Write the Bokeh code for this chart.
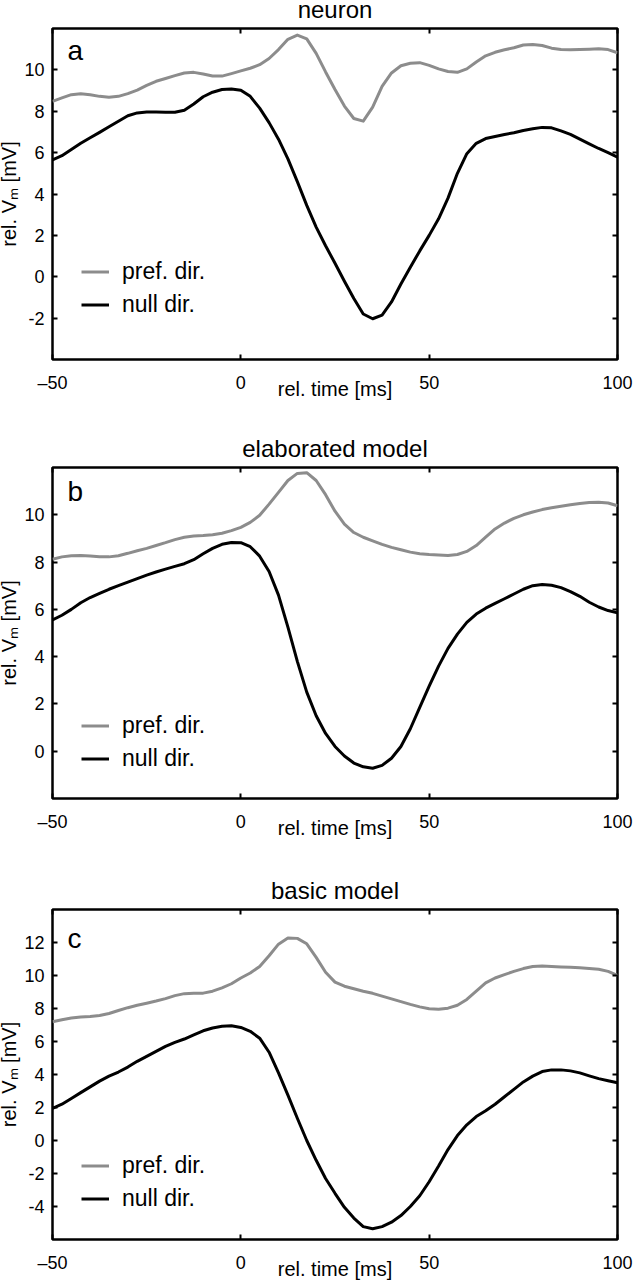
from bokeh.plotting import figure
from bokeh.layouts import column
from bokeh.models import (LinearAxis, Range1d, FixedTicker, Legend, LegendItem, Label)
from bokeh.embed import file_html
from bokeh.resources import INLINE

# ---------------- data ----------------
time_ms = [-50, -47.5, -45, -42.5, -40, -37.5, -35, -32.5, -30, -27.5,
           -25, -22.5, -20, -17.5, -15, -12.5, -10, -7.5, -5, -2.5,
           0, 2.5, 5, 7.5, 10, 12.5, 15, 17.5, 20, 22.5,
           25, 27.5, 30, 32.5, 35, 37.5, 40, 42.5, 45, 47.5,
           50, 52.5, 55, 57.5, 60, 62.5, 65, 67.5, 70, 72.5,
           75, 77.5, 80, 82.5, 85, 87.5, 90, 92.5, 95, 97.5, 100]

neuron_pref = [8.48, 8.65, 8.80, 8.85, 8.80, 8.72, 8.68, 8.72, 8.85, 9.02,
               9.25, 9.45, 9.58, 9.72, 9.85, 9.88, 9.80, 9.70, 9.70, 9.82,
               9.95, 10.08, 10.25, 10.55, 10.98, 11.48, 11.68, 11.50, 10.80, 9.90,
               9.05, 8.25, 7.65, 7.52, 8.20, 9.20, 9.85, 10.20, 10.32, 10.35,
               10.22, 10.05, 9.92, 9.88, 10.05, 10.38, 10.68, 10.85, 10.97, 11.07,
               11.20, 11.23, 11.18, 11.05, 10.98, 10.97, 10.98, 11.00, 11.02, 10.98, 10.83]
neuron_null = [5.65, 5.85, 6.15, 6.45, 6.72, 6.98, 7.25, 7.52, 7.78, 7.92,
               7.96, 7.96, 7.95, 7.95, 8.05, 8.35, 8.70, 8.92, 9.05, 9.08,
               9.02, 8.72, 8.15, 7.45, 6.65, 5.70, 4.60, 3.45, 2.40, 1.50,
               0.65, -0.22, -1.05, -1.80, -2.03, -1.85, -1.22, -0.35, 0.46, 1.25,
               2.00, 2.80, 3.80, 5.00, 5.95, 6.45, 6.68, 6.78, 6.88, 6.96,
               7.07, 7.15, 7.22, 7.20, 7.05, 6.88, 6.65, 6.42, 6.20, 6.00, 5.78]

elaborated_pref = [8.12, 8.22, 8.27, 8.28, 8.26, 8.23, 8.22, 8.27, 8.37, 8.48,
                   8.58, 8.70, 8.82, 8.95, 9.05, 9.10, 9.12, 9.16, 9.22, 9.33,
                   9.47, 9.68, 9.98, 10.45, 10.95, 11.45, 11.75, 11.78, 11.45, 10.85,
                   10.15, 9.60, 9.25, 9.05, 8.90, 8.75, 8.62, 8.52, 8.42, 8.35,
                   8.32, 8.30, 8.28, 8.32, 8.45, 8.70, 9.05, 9.40, 9.65, 9.85,
                   10.00, 10.12, 10.22, 10.30, 10.36, 10.42, 10.48, 10.52, 10.53, 10.50, 10.38]
elaborated_null = [5.55, 5.75, 6.00, 6.28, 6.50, 6.68, 6.85, 7.00, 7.15, 7.30,
                   7.45, 7.58, 7.70, 7.82, 7.93, 8.10, 8.35, 8.58, 8.75, 8.83,
                   8.82, 8.65, 8.25, 7.60, 6.60, 5.25, 3.80, 2.50, 1.50, 0.75,
                   0.20, -0.20, -0.50, -0.66, -0.72, -0.60, -0.30, 0.20, 0.95, 1.85,
                   2.75, 3.60, 4.35, 4.95, 5.45, 5.80, 6.05, 6.25, 6.45, 6.65,
                   6.85, 7.00, 7.05, 7.02, 6.92, 6.75, 6.55, 6.30, 6.10, 5.95, 5.85]

basic_pref = [7.20, 7.32, 7.42, 7.48, 7.52, 7.58, 7.70, 7.88, 8.05, 8.20,
              8.32, 8.45, 8.60, 8.78, 8.90, 8.93, 8.93, 9.05, 9.25, 9.50,
              9.85, 10.15, 10.55, 11.20, 11.90, 12.28, 12.25, 11.92, 11.10, 10.20,
              9.60, 9.35, 9.20, 9.05, 8.92, 8.75, 8.58, 8.42, 8.25, 8.10,
              7.98, 7.95, 8.02, 8.20, 8.55, 9.05, 9.55, 9.85, 10.05, 10.25,
              10.42, 10.55, 10.58, 10.55, 10.52, 10.50, 10.47, 10.43, 10.38, 10.25, 10.00]
basic_null = [1.95, 2.20, 2.55, 2.90, 3.25, 3.60, 3.90, 4.15, 4.45, 4.80,
              5.10, 5.40, 5.70, 5.95, 6.15, 6.40, 6.65, 6.82, 6.92, 6.95,
              6.85, 6.62, 6.20, 5.35, 4.10, 2.75, 1.35, 0.00, -1.20, -2.30,
              -3.20, -4.05, -4.70, -5.22, -5.35, -5.22, -4.95, -4.55, -4.00, -3.35,
              -2.50, -1.55, -0.55, 0.30, 0.95, 1.45, 1.80, 2.20, 2.65, 3.10,
              3.55, 3.90, 4.18, 4.28, 4.28, 4.22, 4.10, 3.92, 3.75, 3.62, 3.50]

x_tick_values = [-50, 0, 50, 100]
x_tick_labels = ["\u201350", "0", "50", "100"]

panel_titles = ["neuron", "elaborated model", "basic model"]
panel_letters = ["a", "b", "c"]
legend_labels = ["pref. dir.", "null dir."]
y_limits = [(-4, 12), (-2, 12), (-6, 14)]
y_ticks = [[-2, 0, 2, 4, 6, 8, 10], [0, 2, 4, 6, 8, 10], [-4, -2, 0, 2, 4, 6, 8, 10, 12]]

# ---------------- styling ----------------
FONT = "Liberation Sans"
GRAY = "#8c8c8c"
BLACK = "#000000"
TOP = 44


def tick_axis(ticks, labels=None, show=True):
    ax = LinearAxis(ticker=FixedTicker(ticks=ticks))
    ax.axis_line_color = None
    ax.major_tick_in = 5
    ax.major_tick_out = 0
    ax.minor_tick_in = 0
    ax.minor_tick_out = 0
    ax.major_tick_line_width = 2
    ax.major_tick_line_color = BLACK
    ax.major_label_text_font = FONT
    if show:
        ax.major_label_text_color = BLACK
        ax.major_label_text_font_size = "18px"
        if labels is not None:
            ax.major_label_overrides = {t: l for t, l in zip(ticks, labels)}
    else:
        # tick marks only: labels are not drawn
        ax.major_label_text_color = None
        ax.major_label_text_font_size = "1px"
        ax.major_label_standoff = 0
    return ax


def make_panel(i, pref, null, frame_h, border_bottom, letter_y, legend_y):
    ymin, ymax = y_limits[i]
    p = figure(frame_width=565, frame_height=frame_h,
               x_range=Range1d(-50, 100), y_range=Range1d(ymin, ymax),
               output_backend="svg", toolbar_location=None,
               x_axis_location=None, y_axis_location=None,
               min_border_left=52, min_border_right=19,
               min_border_top=TOP, min_border_bottom=border_bottom,
               title=panel_titles[i])
    p.xgrid.visible = False
    p.ygrid.visible = False
    p.outline_line_color = BLACK
    p.outline_line_width = 2.5
    p.background_fill_color = "white"
    p.border_fill_color = "white"

    p.title.text_font = FONT
    p.title.text_font_size = "24px"
    p.title.text_font_style = "normal"
    p.title.text_color = BLACK
    p.title.align = "center"
    p.title.standoff = 12

    # bottom axis
    xb = tick_axis(x_tick_values, x_tick_labels)
    xb.major_label_standoff = 13
    xb.axis_label = "rel. time [ms]"
    xb.axis_label_text_font = FONT
    xb.axis_label_text_font_size = "20px"
    xb.axis_label_text_font_style = "normal"
    xb.axis_label_text_color = BLACK
    xb.axis_label_standoff = -18
    p.add_layout(xb, "below")

    # left axis
    yl = tick_axis(y_ticks[i], [str(v) for v in y_ticks[i]])
    yl.major_label_standoff = 8
    yl.axis_label = "rel. V\u2098 [mV]"
    yl.axis_label_text_font = FONT
    yl.axis_label_text_font_size = "20px"
    yl.axis_label_text_font_style = "normal"
    yl.axis_label_text_color = BLACK
    yl.axis_label_standoff = 1
    p.add_layout(yl, "left")

    # mirrored ticks (top / right)
    p.add_layout(tick_axis(x_tick_values, show=False), "above")
    p.add_layout(tick_axis(y_ticks[i], show=False), "right")

    r_pref = p.line(time_ms, pref, line_color=GRAY, line_width=3, line_join="round")
    r_null = p.line(time_ms, null, line_color=BLACK, line_width=3, line_join="round")

    legend = Legend(items=[LegendItem(label=legend_labels[0], renderers=[r_pref]),
                           LegendItem(label=legend_labels[1], renderers=[r_null])],
                    location=(29, legend_y))
    legend.glyph_width = 28
    legend.glyph_height = 33
    legend.label_height = 33
    legend.spacing = 0
    legend.padding = 0
    legend.margin = 0
    legend.label_standoff = 13
    legend.label_text_font = FONT
    legend.label_text_font_size = "23px"
    legend.label_text_color = BLACK
    legend.border_line_color = None
    legend.background_fill_alpha = 0
    p.add_layout(legend)

    p.add_layout(Label(x=-46, y=letter_y, text=panel_letters[i], text_font=FONT,
                       text_font_size="28px", text_baseline="middle", text_color=BLACK))
    return p


pa = make_panel(0, neuron_pref, neuron_null, 331, 439 - 331 - TOP, 10.96, 38)
pb = make_panel(1, elaborated_pref, elaborated_null, 331, 442 - 331 - TOP, 11.0, 23)
pc = make_panel(2, basic_pref, basic_null, 330, 41, 12.27, 24)

layout = column(pa, pb, pc, spacing=0, margin=(28 - TOP, 0, -8, -5))

open("out.html", "w").write(file_html(layout, INLINE))
